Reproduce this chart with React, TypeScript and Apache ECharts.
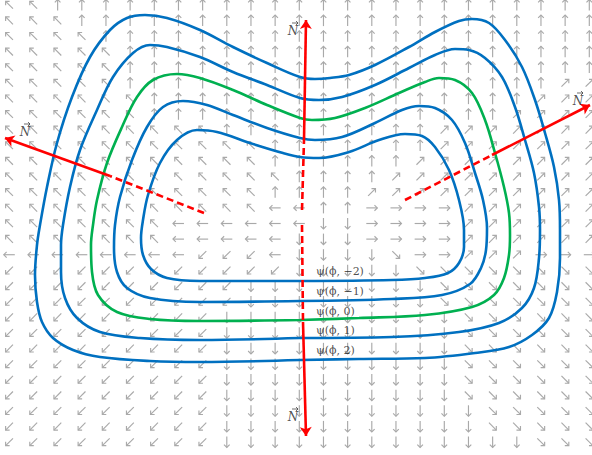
import React, { useEffect, useRef } from "react";
import * as echarts from "echarts";

// Vector field: one string per row (top to bottom), one char per column.
// U=↑ D=↓ L=← R=→ a=↖ b=↗ c=↘ d=↙
const FIELD_ROWS: string[] = [
  "aaUUUUUUUUUUUUUUUUUUUUUUU",
  "aaaUUUUUUUUUUUUUUUUUUUUUU",
  "aaaaUUUUUUUUUUUUUUUUUUUUU",
  "aaaaaUUUUUUUUUUUUUUUUUUUU",
  "aaaaaUUUUUUUUUUUUUUUUUUUU",
  "aaaaaUUUUUUUUUUUUUUUUUUbb",
  "aaaaaaUUUUUUUUUUUUUUUUbbb",
  "aaaaaaUUUUUUUUUUUUUUUbbbb",
  "aaaaaaaaaUUUUUUUUUbbbbbbb",
  "aaaaaaaaaaaUUUUUUUbbbbbbb",
  "aaaaaaaaaaaUUUUUUbbbbbbbb",
  "aaaaaaaaaaaaUUUUbbbbbbbbb",
  "aaaaaaaaaaaUUUUbbbbbbbbbb",
  "aaaaaaaaaaaLLUURRRRbbbbbb",
  "aaaaaaaLLLLLLDDRRRRbbbbbb",
  "aaaaaaaLLLLLDDDRRRRbbbbbb",
  "LLLLLLLLdddLDDDDcRRbbbRRR",
  "ddddddddddddDDDDDcccccccc",
  "ddddddddddDDDDDDDDccccccc",
  "ddddddddddDDDDDDDDccccccc",
  "dddddddddDDDDDDDDDDcccccc",
  "dddddddddDDDDDDDDDDcccccc",
  "dddddddddDDDDDDDDDDcccccc",
  "dddddddddDDDDDDDDDDcccccc",
  "dddddddddDDDDDDDDDDcccccc",
  "dddddddddDDDDDDDDDDcccccc",
  "dddddddddDDDDDDDDDDDccccc",
  "dddddddddDDDDDDDDDDDccccc",
  "dddddddddDDDDDDDDDDDDDccc",
];

const DIR_VECS: Record<string, [number, number]> = {
  U: [0, -1], D: [0, 1], L: [-1, 0], R: [1, 0],
  a: [-1, -1], b: [1, -1], c: [1, 1], d: [-1, 1],
};
const DIR_KEYS = Object.keys(DIR_VECS);

// Level curves (picture coordinates, y downward), each starting and ending at the flat bottom
const PSI_P2: number[][] = [
  [300, 360], [200, 362], [150, 361], [100, 357], [73, 350], [53, 338], [42, 322], [37, 302],
  [35, 275], [37, 245], [40, 225], [47, 187], [57, 143], [72, 97], [90, 57], [110, 30], [127, 18],
  [145, 15], [167, 18], [200, 30], [233, 47], [267, 63], [300, 77], [315, 79], [330, 78], [349, 75],
  [375, 65], [409, 47], [435, 32], [459, 21], [472, 19], [489, 23], [505, 40], [522, 67], [535, 100],
  [545, 133], [554, 167], [559, 200], [560, 230], [560, 258], [557, 292], [549, 318], [532, 335],
  [509, 347], [475, 353], [425, 358], [359, 359], [300, 360],
];
const PSI_P1: number[][] = [
  [300, 338], [200, 340], [140, 338], [100, 332], [77, 318], [65, 298], [61, 272], [61, 245],
  [63, 225], [70, 187], [80, 150], [97, 110], [113, 77], [133, 53], [150, 45], [167, 47], [200, 57],
  [233, 72], [267, 85], [300, 98], [319, 100], [342, 97], [375, 85], [409, 68], [435, 55], [455, 49],
  [469, 50], [485, 58], [502, 77], [515, 107], [525, 140], [534, 173], [539, 207], [540, 230],
  [539, 258], [534, 288], [522, 308], [499, 323], [459, 332], [392, 337], [300, 338],
];
const PSI_0: number[][] = [
  [300, 320], [200, 321], [150, 319], [117, 312], [98, 295], [92, 272], [91, 245], [93, 225],
  [97, 200], [107, 163], [122, 127], [137, 97], [153, 80], [177, 74], [200, 78], [233, 90],
  [267, 105], [300, 118], [312, 120], [335, 118], [365, 108], [399, 93], [425, 82], [439, 78],
  [455, 80], [472, 93], [485, 120], [495, 153], [504, 187], [509, 213], [510, 235], [509, 255],
  [504, 278], [494, 295], [472, 307], [425, 315], [359, 318], [300, 320],
];
const PSI_M1: number[][] = [
  [300, 301], [200, 302], [150, 298], [127, 288], [117, 272], [114, 248], [115, 225], [120, 197],
  [132, 160], [147, 127], [163, 107], [183, 101], [207, 105], [233, 115], [267, 128], [300, 138],
  [315, 140], [342, 137], [375, 123], [402, 110], [419, 106], [435, 108], [452, 120], [465, 143],
  [475, 173], [483, 200], [487, 228], [486, 250], [481, 268], [470, 284], [442, 295], [392, 299],
  [300, 301],
];
const PSI_M2: number[][] = [
  [300, 281], [200, 281], [167, 278], [151, 269], [143, 255], [141, 238], [143, 220], [148, 195],
  [160, 163], [177, 140], [197, 130], [217, 132], [250, 143], [283, 153], [300, 157], [319, 158],
  [349, 152], [379, 140], [405, 134], [422, 136], [435, 147], [449, 170], [459, 200], [464, 230],
  [464, 247], [459, 263], [448, 273], [425, 278], [392, 280], [300, 281],
];

const CURVES = [PSI_M2, PSI_M1, PSI_0, PSI_P1, PSI_P2];
const CURVE_COLORS = ["#0070C0", "#0070C0", "#00B050", "#0070C0", "#0070C0"];

const PSI_LABELS = ["ψ(ϕ, −2)", "ψ(ϕ, −1)", "ψ(ϕ, 0)", "ψ(ϕ, 1)", "ψ(ϕ, 2)"];
const PSI_LABEL_POS: number[][] = [[316, 271], [316, 291], [316, 311], [316, 330], [316, 350]];

// Normal vectors: dashed inner part, solid outer part with arrow head
const NORMAL_DASHED: number[][][] = [
  [[302, 210], [304, 140]],
  [[302, 225], [303, 322]],
  [[204, 213], [110, 176]],
  [[405, 200], [492, 155]],
];
const NORMAL_SOLID: number[][][] = [
  [[304, 140], [306, 20]],
  [[303, 322], [306, 436]],
  [[110, 176], [5, 138]],
  [[492, 155], [590, 105]],
];
const NORMAL_LABEL_POS: number[][] = [[293, 31], [293, 417], [25, 132], [578, 101]];
const NORMAL_LABEL = "N";

const ACCENT_ARROW = "path://M0,3 L9,3 M6,0.5 L9,3 L6,5.5";

export default function App() {
  const ref = useRef<HTMLDivElement>(null);
  useEffect(() => {
    if (!ref.current) return;
    const chart = echarts.init(ref.current, undefined, { renderer: "svg" });

    const fieldData: number[][] = [];
    FIELD_ROWS.forEach((row, j) => {
      row.split("").forEach((ch, i) => {
        fieldData.push([i, j, DIR_KEYS.indexOf(ch)]);
      });
    });

    const gray = "#a9a9a9";
    const series: any[] = [
      {
        type: "custom",
        xAxisIndex: 0,
        yAxisIndex: 0,
        data: fieldData,
        clip: false,
        silent: true,
        z: 1,
        encode: { x: 0, y: 1 },
        renderItem: (_p: any, api: any) => {
          const i = api.value(0);
          const j = api.value(1);
          const k = api.value(2);
          const v = DIR_VECS[DIR_KEYS[k]];
          const n = Math.hypot(v[0], v[1]);
          const ux = v[0] / n;
          const uy = v[1] / n;
          const c = api.coord([i, j]);
          const L = n > 1 ? 5.2 : 5.5;
          const tx = c[0] + ux * L;
          const ty = c[1] + uy * L;
          const sx = c[0] - ux * L;
          const sy = c[1] - uy * L;
          const h = 4;
          const cs = Math.cos(Math.PI / 4);
          const sn = Math.sin(Math.PI / 4);
          const bx = -ux;
          const by = -uy;
          const h1 = [tx + h * (bx * cs - by * sn), ty + h * (bx * sn + by * cs)];
          const h2 = [tx + h * (bx * cs + by * sn), ty + h * (-bx * sn + by * cs)];
          return {
            type: "group",
            children: [
              { type: "line", shape: { x1: sx, y1: sy, x2: tx, y2: ty }, style: { stroke: gray, lineWidth: 1.15 } },
              { type: "polyline", shape: { points: [h1, [tx, ty], h2] }, style: { stroke: gray, fill: null, lineWidth: 1.15 } },
            ],
          };
        },
      },
    ];

    CURVES.forEach((pts, idx) => {
      series.push({
        type: "line",
        xAxisIndex: 1,
        yAxisIndex: 1,
        data: pts,
        smooth: 0.35,
        symbol: "none",
        clip: false,
        silent: true,
        z: 3,
        lineStyle: { color: CURVE_COLORS[idx], width: 2.6 },
      });
    });

    series.push({
      type: "lines",
      coordinateSystem: "cartesian2d",
      xAxisIndex: 1,
      yAxisIndex: 1,
      silent: true,
      z: 5,
      symbol: ["none", "none"],
      lineStyle: { color: "#ff0000", width: 2.6, type: [7, 4], opacity: 1 },
      data: NORMAL_DASHED.map((c) => ({ coords: c })),
    });
    series.push({
      type: "lines",
      coordinateSystem: "cartesian2d",
      xAxisIndex: 1,
      yAxisIndex: 1,
      silent: true,
      z: 5,
      symbol: ["none", "arrow"],
      symbolSize: 9,
      lineStyle: { color: "#ff0000", width: 2.6, type: "solid", opacity: 1 },
      data: NORMAL_SOLID.map((c) => ({ coords: c })),
    });

    series.push({
      type: "scatter",
      xAxisIndex: 1,
      yAxisIndex: 1,
      symbolSize: 0,
      silent: true,
      z: 6,
      data: PSI_LABEL_POS.map((p, i) => ({ value: p, name: PSI_LABELS[i] })),
      label: {
        show: true,
        position: "right",
        distance: 0,
        formatter: (p: any) => p.name,
        fontFamily: "'DejaVu Serif', serif",
        fontSize: 11,
        color: "#222",
      },
    });
    series.push({
      type: "scatter",
      xAxisIndex: 1,
      yAxisIndex: 1,
      symbolSize: 0,
      silent: true,
      z: 6,
      data: NORMAL_LABEL_POS.map((p) => ({ value: p, name: NORMAL_LABEL })),
      label: {
        show: true,
        position: "inside",
        formatter: (p: any) => p.name,
        fontFamily: "'DejaVu Serif', serif",
        fontStyle: "italic",
        fontSize: 12,
        color: "#222",
      },
    });
    // vector accent above each N
    series.push({
      type: "scatter",
      xAxisIndex: 1,
      yAxisIndex: 1,
      symbol: ACCENT_ARROW,
      symbolSize: [6, 4],
      symbolOffset: [2, -8],
      silent: true,
      z: 6,
      itemStyle: { color: "none", borderColor: "#222", borderWidth: 0.8 },
      data: NORMAL_LABEL_POS,
    });

    chart.setOption({
      animation: false,
      backgroundColor: "#ffffff",
      grid: [
        { left: 9.3, right: 2.7, top: 5, bottom: 13 },
        { left: 0, right: 0, top: 0, bottom: 0 },
      ],
      xAxis: [
        { type: "value", gridIndex: 0, min: 0, max: 24, show: false },
        { type: "value", gridIndex: 1, min: 0, max: 592, show: false },
      ],
      yAxis: [
        { type: "value", gridIndex: 0, min: 0, max: 28, inverse: true, show: false },
        { type: "value", gridIndex: 1, min: 0, max: 455, inverse: true, show: false },
      ],
      series,
    });
    return () => chart.dispose();
  }, []);
  return (
    <div
      ref={ref}
      style={{ position: "fixed", left: 0, top: 0, width: 592, height: 455, background: "#fff" }}
    />
  );
}
